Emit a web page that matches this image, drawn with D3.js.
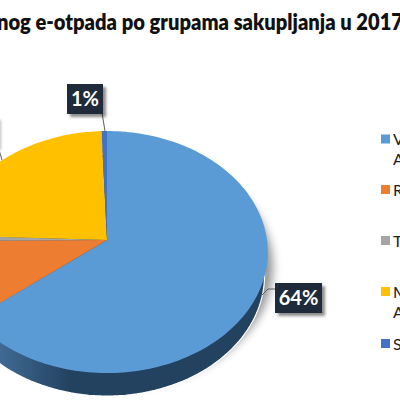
<!DOCTYPE html>
<html><head><meta charset="utf-8">
<script src="https://cdn.jsdelivr.net/npm/d3@7"></script>
<style>html,body{margin:0;padding:0;background:#fff;overflow:hidden}svg{display:block}text{font-family:Lato,sans-serif}</style>
</head><body><svg id="c" width="400" height="400"></svg>
<script>
const categories=["V","R","T","M","S"];
const legendSecondLine=["A","","","A",""];
const values=[64.4,10.5,0.7,23.8,0.6];
const colors=["#5B9BD5","#ED7D31","#A5A5A5","#FFC000","#4472C4"];
const shownLabels=["64%",null,null,"24%","1%"];
const titleText="nog e-otpada po grupama sakupljanja u 2017";

const svg=d3.select("#c");
const defs=svg.append("defs");
const blur=defs.append("filter").attr("id","blur").attr("x","-30%").attr("y","-30%").attr("width","160%").attr("height","160%");
blur.append("feGaussianBlur").attr("stdDeviation",5);
const lb=defs.append("filter").attr("id","lb").attr("x","-30%").attr("y","-30%").attr("width","160%").attr("height","160%");
lb.append("feGaussianBlur").attr("stdDeviation",1.6);
const wg=defs.append("linearGradient").attr("id","wall").attr("gradientUnits","userSpaceOnUse").attr("x1",0).attr("x2",70).attr("y1",0).attr("y2",0);
wg.append("stop").attr("offset",0).attr("stop-color","#3F6A94");
wg.append("stop").attr("offset",1).attr("stop-color","#234260");

// perspective disc: u = right, v = toward viewer
const cx=107,cy=240,R=160,S=119.8,k=0.0995,depth=23,wallScale=0.98;
function proj(a,r=1){const u=Math.sin(a)*r,v=-Math.cos(a)*r,w=1-k*v;return [cx+R*u/w,cy+S*v/w];}
const arcs=d3.pie().sort(null).value(d=>d)(values);
function slicePath(d){
  const n=Math.max(4,Math.ceil((d.endAngle-d.startAngle)*40));
  const pts=d3.range(n+1).map(i=>proj(d.startAngle+(d.endAngle-d.startAngle)*i/n));
  return d3.line()([[cx,cy],...pts])+"Z";
}
const full=d3.range(0,181).map(i=>proj(i/180*2*Math.PI));
const lowerEdge=full.map(p=>[cx+(p[0]-cx)*wallScale,p[1]+depth]);

// soft shadow
svg.append("path").attr("d",d3.line()(full.map(p=>[p[0]+5,p[1]+15]))+"Z").attr("fill","#000").attr("opacity",0.42).attr("filter","url(#blur)");
// thin light rim between wall and shadow
svg.append("path").attr("d",d3.line()(lowerEdge)+"Z").attr("fill","url(#wall)").attr("stroke","#fff").attr("stroke-width",1.2);
// top face
svg.append("g").selectAll("path").data(arcs).join("path").attr("d",slicePath).attr("fill",(d,i)=>colors[i]);

// title
svg.append("text").attr("x",-3).attr("y",30).attr("font-size",22).attr("font-weight",800).attr("fill","#111").attr("textLength",406).attr("lengthAdjust","spacingAndGlyphs").text(titleText);

// leader lines
const leaders=[[[262,295],[268,289],[276,289]],[[105,131],[102,113]],[[-1,150],[2,160]]];
svg.append("g").selectAll("path").data(leaders).join("path").attr("d",d=>d3.line()(d)).attr("fill","none").attr("stroke","#5f5f5f").attr("stroke-width",1);

// shadow edge of the label that lies past the left border
svg.append("rect").attr("x",-20).attr("y",120).attr("width",21).attr("height",30).attr("fill","#000").attr("opacity",.25).attr("filter","url(#lb)");

// data labels
const boxes=[{i:0,x:275,y:283,w:47,h:30,fs:20},{i:4,x:67,y:84,w:36,h:30,fs:20}];
const bg=svg.append("g").selectAll("g").data(boxes).join("g");
bg.append("rect").attr("x",d=>d.x+3).attr("y",d=>d.y+3).attr("width",d=>d.w).attr("height",d=>d.h).attr("fill","#000").attr("opacity",.45).attr("filter","url(#lb)");
bg.append("rect").attr("x",d=>d.x).attr("y",d=>d.y).attr("width",d=>d.w).attr("height",d=>d.h).attr("fill","#1F2A3A");
bg.append("text").attr("x",d=>d.x+d.w/2).attr("y",d=>d.y+d.h/2+7).attr("text-anchor","middle").attr("font-size",d=>d.fs).attr("font-weight",700).attr("fill","#fff").text(d=>shownLabels[d.i]);

// legend
const legendY=[139,189.5,240.5,291.5,343.5];
const lg=svg.append("g").selectAll("g").data(categories).join("g");
lg.append("rect").attr("x",381).attr("y",(d,i)=>legendY[i]-4.5).attr("width",9).attr("height",9).attr("fill",(d,i)=>colors[i]);
lg.append("text").attr("x",393).attr("y",(d,i)=>legendY[i]+6).attr("font-size",16).attr("fill","#222").text(d=>d);
lg.append("text").attr("x",393).attr("y",(d,i)=>legendY[i]+26).attr("font-size",16).attr("fill","#222").text((d,i)=>legendSecondLine[i]);
</script></body></html>
